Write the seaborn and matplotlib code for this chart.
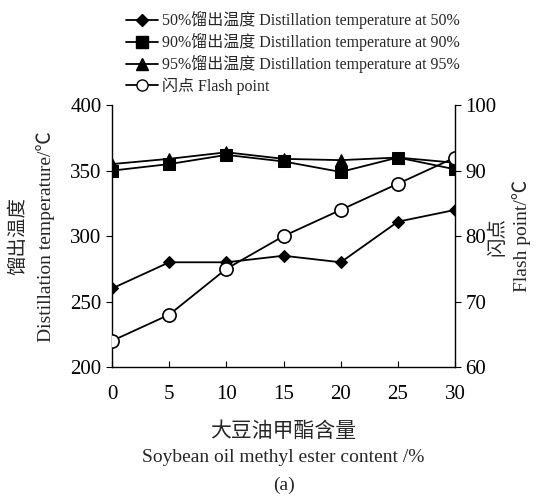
import pandas as pd
import seaborn as sns
import matplotlib.pyplot as plt
from matplotlib.lines import Line2D

# data
content = [0, 5, 10, 15, 20, 25, 30]
t50 = [260, 280, 280, 285, 280, 311, 320]
t90 = [350, 355, 362, 357, 349, 360, 351]
t95 = [355, 359, 364, 359, 358, 360, 356]
flash = [64, 68, 75, 80, 84, 88, 92]

labels = ['50%馏出温度 Distillation temperature at 50%',
          '90%馏出温度 Distillation temperature at 90%',
          '95%馏出温度 Distillation temperature at 95%',
          '闪点 Flash point']

sns.set_style('ticks')
plt.rcParams['font.family'] = ['Liberation Serif', 'Noto Sans CJK SC', 'DejaVu Sans']
plt.rcParams['axes.unicode_minus'] = False

df = pd.DataFrame({'content': content, 't50': t50, 't90': t90, 't95': t95, 'flash': flash})

fig = plt.figure(figsize=(5.36, 4.96), dpi=100)
ax = fig.add_axes([0.209, 0.26, 0.64, 0.528])
ax2 = ax.twinx()

sns.lineplot(data=df, x='content', y='t50', ax=ax, color='black', marker='D', markersize=6,
             markeredgecolor='black', lw=1.3)
sns.lineplot(data=df, x='content', y='t90', ax=ax, color='black', marker='s', markersize=8,
             markeredgecolor='black', lw=1.3)
sns.lineplot(data=df, x='content', y='t95', ax=ax, color='black', marker='^', markersize=8,
             markeredgecolor='black', lw=1.3)
sns.lineplot(data=df, x='content', y='flash', ax=ax2, color='black', marker='o', markersize=9.5,
             markerfacecolor='white', markeredgecolor='black', markeredgewidth=1.2, lw=1.3)

ax.set_xlim(0, 30)
ax.set_ylim(200, 400)
ax2.set_ylim(60, 100)
ax.set_xticks(content)
ax.set_yticks([200, 250, 300, 350, 400])
ax2.set_yticks([60, 70, 80, 90, 100])

for a in (ax, ax2):
    for s in a.spines.values():
        s.set_color('black')
        s.set_linewidth(1.0)
    a.spines['top'].set_visible(False)
ax.spines['right'].set_visible(False)
ax2.spines['left'].set_visible(False)
ax2.spines['bottom'].set_visible(False)

ax.tick_params(axis='x', direction='in', length=4, labelsize=15, pad=13, colors='black')
ax.tick_params(axis='y', direction='out', length=4, labelsize=15, colors='black')
ax2.tick_params(axis='y', direction='out', length=4, labelsize=15, colors='black')

ax.set_xlabel('')
ax.set_ylabel('')
ax2.set_ylabel('')

fig.text(0.034, 0.524, '馏出温度', rotation=90, ha='center', va='center', fontsize=14)
fig.text(0.084, 0.524, 'Distillation temperature/℃', rotation=90, ha='center', va='center', fontsize=14)
fig.text(0.927, 0.524, '闪点', rotation=90, ha='center', va='center', fontsize=14)
fig.text(0.973, 0.524, 'Flash point/℃', rotation=90, ha='center', va='center', fontsize=14)

fig.text(0.529, 0.128, '大豆油甲酯含量', ha='center', va='center', fontsize=15)
fig.text(0.529, 0.077, 'Soybean oil methyl ester content /%', ha='center', va='center', fontsize=14)
fig.text(0.529, 0.022, '(a)', ha='center', va='center', fontsize=14)

handles = [
    Line2D([], [], color='black', marker='D', markersize=6, lw=1.3),
    Line2D([], [], color='black', marker='s', markersize=8, lw=1.3),
    Line2D([], [], color='black', marker='^', markersize=8, lw=1.3),
    Line2D([], [], color='black', marker='o', markersize=8, markerfacecolor='white', lw=1.3),
]
fig.legend(handles, labels, loc='upper left', bbox_to_anchor=(0.215, 1.0), frameon=False,
           fontsize=11.5, handlelength=2.0, handletextpad=0.2, labelspacing=0.25,
           borderpad=0.2)

fig.savefig('out.png', dpi=100, facecolor='white')
